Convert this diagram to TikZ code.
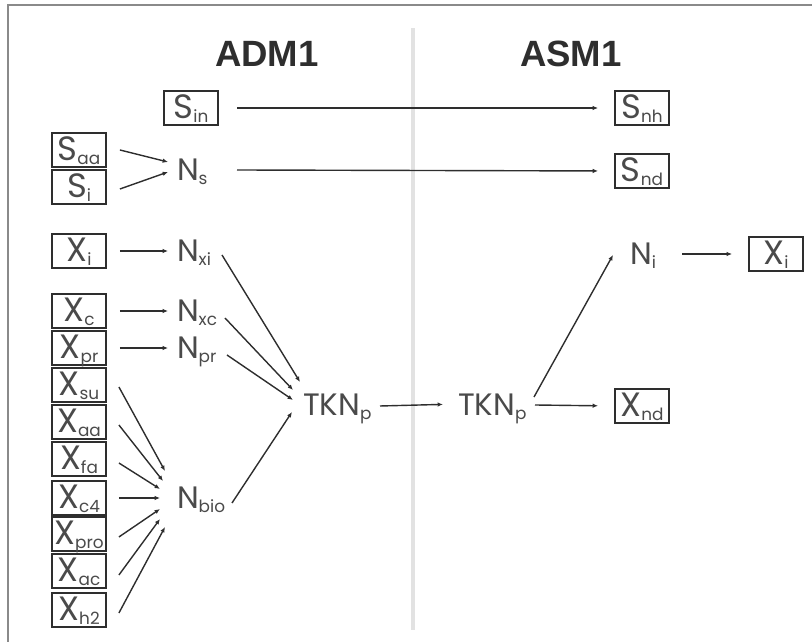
\documentclass[tikz,border=0pt]{standalone}
\usepackage{fontspec}
\usepackage{xcolor}
\usetikzlibrary{arrows.meta,positioning}
\newfontfamily\labfont{Poppins}
\newfontfamily\headfont{Liberation Sans}
\definecolor{Ink}{HTML}{2E2E2E}
\definecolor{Label}{HTML}{4A4A4A}
\definecolor{Frame}{HTML}{8A8A8A}
\definecolor{Divider}{HTML}{E2E2E2}
\newcommand{\sbs}[1]{\smash{\raisebox{-2.4pt}{\fontsize{12}{12}\selectfont#1}}}

\begin{document}
\begin{tikzpicture}[x=0.025cm,y=-0.025cm,>={Latex[length=3.8pt,width=3.2pt]},
  var/.style={draw=Ink,line width=1.3pt,text=Label,font=\labfont\fontsize{24}{26}\selectfont,
    minimum width=38.4pt,minimum height=24pt,inner sep=0pt,text depth=1.5pt},
  nlab/.style={text=Label,font=\labfont\fontsize{22}{24}\selectfont,inner sep=0pt,outer sep=0pt,anchor=west},
  head/.style={text=Ink,font=\headfont\bfseries\fontsize{26}{28}\selectfont},
  arr/.style={Ink,line width=1pt,->},
  link/.style={arr,shorten <=9.2pt,shorten >=6.4pt}]
  \useasboundingbox (0,0) rectangle (812,642);
  \draw[Frame,line width=1.2pt] (8,642) -- (8,5) -- (812,5);
  \draw[Divider,line width=3.5pt] (413,28) -- (413,630);
  \node[head] (adm) at (267,54) {ADM1};
  \node[head] (asm) at (571,54) {ASM1};

  \node[var] (sin) at (191,108) {S\sbs{in}};
  \node[var] (saa) at (79,150) {S\sbs{aa}};
  \node[var] (si) at (79,187) {S\sbs{i}};
  \node[var] (xi) at (79,251) {X\sbs{i}};
  \node[var] (xc) at (79,311) {X\sbs{c}};
  \node[var] (xpr) at (79,348) {X\sbs{pr}};
  \node[var] (xsu) at (79,385) {X\sbs{su}};
  \node[var] (xaa) at (79,422) {X\sbs{aa}};
  \node[var] (xfa) at (79,459) {X\sbs{fa}};
  \node[var] (xcf) at (79,498) {X\sbs{c4}};
  \node[var] (xpro) at (79,534) {X\sbs{pro}};
  \node[var] (xac) at (79,571) {X\sbs{ac}};
  \node[var] (xht) at (79,610) {X\sbs{h2}};
  \node[var] (snh) at (642,108) {S\sbs{nh}};
  \node[var] (snd) at (642,171) {S\sbs{nd}};
  \node[var] (xnd) at (642,406) {X\sbs{nd}};
  \node[var] (xir) at (776,254) {X\sbs{i}};

  \node[nlab] (ns) at (177,170) {N\sbs{s}};
  \node[nlab] (nxi) at (177,251) {N\sbs{xi}};
  \node[nlab] (nxc) at (177,311) {N\sbs{xc}};
  \node[nlab] (npr) at (177,348) {N\sbs{pr}};
  \node[nlab] (nbio) at (177,498) {N\sbs{bio}};
  \node[nlab] (tknl) at (303,405) {TKN\sbs{p}};
  \node[nlab] (tknr) at (458,405) {TKN\sbs{p}};
  \node[nlab] (ni) at (630,254) {N\sbs{i}};

  \draw[link,shorten <=13pt,shorten >=11.4pt] (sin.east) -- (snh.west);
  \draw[arr,shorten >=11.4pt] ([shift={(60,0)}]ns.west) -- (snd.west);
  \draw[arr] ([shift={(13,0)}]saa.east) -- ([shift={(-9,-8)}]ns.west);
  \draw[arr] ([shift={(13,2)}]si.east) -- ([shift={(-9,2)}]ns.west);
  \draw[link] (xi.east) -- (nxi.west);
  \draw[link] (xc.east) -- (nxc.west);
  \draw[link] (xpr.east) -- (npr.west);
  \draw[arr] ([shift={(12,2)}]xsu.east) -- ([shift={(-12,-27)}]nbio.west);
  \draw[arr] ([shift={(12,3)}]xaa.east) -- ([shift={(-14,-17)}]nbio.west);
  \draw[arr] ([shift={(12,4)}]xfa.east) -- ([shift={(-17,-9)}]nbio.west);
  \draw[arr] ([shift={(12,0)}]xcf.east) -- ([shift={(-17,0)}]nbio.west);
  \draw[arr] ([shift={(12,3)}]xpro.east) -- ([shift={(-17,11)}]nbio.west);
  \draw[arr] ([shift={(12,4)}]xac.east) -- ([shift={(-17,21)}]nbio.west);
  \draw[arr] ([shift={(12,3)}]xht.east) -- ([shift={(-12,29)}]nbio.west);
  \draw[arr] ([shift={(45,4)}]nxi.west) -- ([shift={(-3,-23)}]tknl.west);
  \draw[arr] ([shift={(48,7)}]nxc.west) -- ([shift={(-10,-15)}]tknl.west);
  \draw[arr] ([shift={(50,7)}]npr.west) -- ([shift={(-10,-5)}]tknl.west);
  \draw[arr] ([shift={(55,5)}]nbio.west) -- ([shift={(-11,7)}]tknl.west);
  \draw[arr,shorten >=10.7pt] ([shift={(77,1)}]tknl.west) -- ([yshift=0.7pt]tknr.west);
  \draw[arr] ([shift={(76,-8)}]tknr.west) -- ([shift={(-17,1)}]ni.west);
  \draw[arr,shorten >=11.4pt] ([shift={(77,0)}]tknr.west) -- (xnd.west);
  \draw[arr,shorten >=11.4pt] ([shift={(52,0)}]ni.west) -- (xir.west);
\end{tikzpicture}
\end{document}
